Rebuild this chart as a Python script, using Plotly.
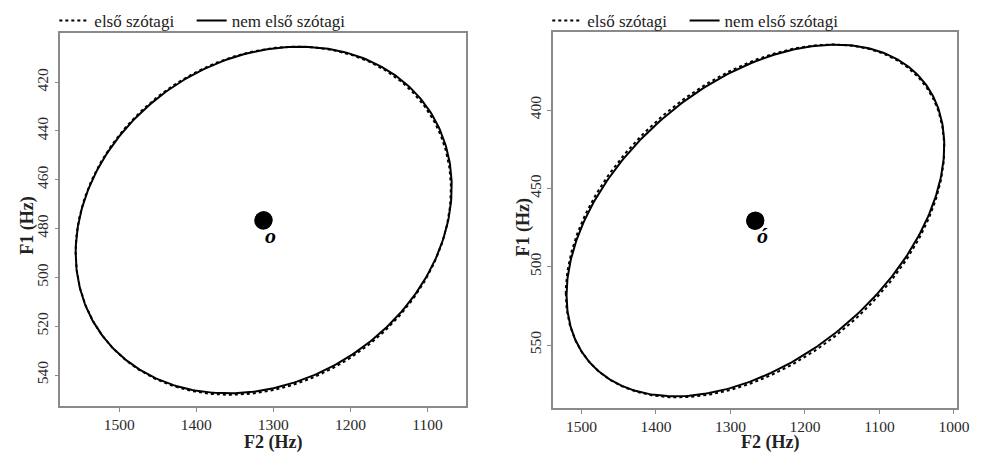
import numpy as np
import plotly.graph_objects as go

# Groups (legend labels)
groups = ["első szótagi", "nem első szótagi"]
dashes = ["dot", "solid"]

# Vowel /o/: group means and ellipse parameters (Hz)
o_f2_mean = [1313.0, 1312.5]
o_f1_mean = [476.8, 476.5]
o_f2_half = [243.5, 244.0]
o_f1_half = [71.3, 71.0]
o_rho = [0.18, 0.19]

# Vowel /ó/: group means and ellipse parameters (Hz)
oo_f2_mean = [1267.0, 1266.5]
oo_f1_mean = [470.8, 470.5]
oo_f2_half = [254.0, 253.5]
oo_f1_half = [112.6, 112.2]
oo_rho = [0.41, 0.425]

# Tick values
o_xticks = [1500, 1400, 1300, 1200, 1100]
o_yticks = [420, 440, 460, 480, 500, 520, 540]
oo_xticks = [1500, 1400, 1300, 1200, 1100, 1000]
oo_yticks = [400, 450, 500, 550]

FONT = "Liberation Serif"
W, H = 988, 452


def ellipse(cx, cy, a, b, rho, n=400):
    t = np.linspace(0, 2 * np.pi, n)
    x = cx + a * np.cos(t)
    y = cy + b * (rho * np.cos(t) + np.sqrt(1 - rho ** 2) * np.sin(t))
    return x, y


fig = go.Figure()

# each legend entry gets its own legend box so the entries can be spaced freely
panels = [
    dict(xa="x", ya="y", legs=["legend", "legend2"], label="o",
         f2=o_f2_mean, f1=o_f1_mean, a=o_f2_half, b=o_f1_half, r=o_rho),
    dict(xa="x2", ya="y2", legs=["legend3", "legend4"], label="ó",
         f2=oo_f2_mean, f1=oo_f1_mean, a=oo_f2_half, b=oo_f1_half, r=oo_rho),
]

for p in panels:
    for i, g in enumerate(groups):
        ex, ey = ellipse(p["f2"][i], p["f1"][i], p["a"][i], p["b"][i], p["r"][i])
        fig.add_trace(go.Scatter(
            x=ex, y=ey, mode="lines", name=g,
            line=dict(color="black", width=2, dash=dashes[i]),
            xaxis=p["xa"], yaxis=p["ya"], legend=p["legs"][i], hoverinfo="skip",
        ))
    # group means
    fig.add_trace(go.Scatter(
        x=p["f2"], y=p["f1"], mode="markers",
        marker=dict(color="black", size=18),
        xaxis=p["xa"], yaxis=p["ya"], showlegend=False,
    ))
    fig.add_annotation(
        x=float(np.mean(p["f2"])), y=float(np.mean(p["f1"])),
        xref=p["xa"], yref=p["ya"],
        text="<b><i>" + p["label"] + "</i></b>", showarrow=False,
        font=dict(family=FONT, size=22, color="black"),
        xshift=7, yshift=-15,
    )


def dom_x(l, r):
    return [l / W, r / W]


def dom_y(t, b):
    return [(H - b) / H, (H - t) / H]


axis_common = dict(
    showline=True, linecolor="#8a8a8a", linewidth=1.5, mirror=True,
    ticks="outside", ticklen=4, tickcolor="#8a8a8a", tickwidth=1,
    showgrid=False, zeroline=False,
    tickfont=dict(family=FONT, size=15.5, color="#2a2a2a"),
)

legend_common = dict(
    orientation="h", y=1 - 3 / H, xanchor="left", yanchor="top",
    font=dict(family=FONT, size=17, color="#222222"),
    bgcolor="rgba(0,0,0,0)", itemwidth=30,
)

fig.update_layout(
    width=W, height=H,
    margin=dict(l=0, r=0, t=0, b=0),
    paper_bgcolor="white", plot_bgcolor="white",
    font=dict(family=FONT, color="#222222"),
    xaxis=dict(domain=dom_x(61, 472), range=[1576.5, 1049.6], tickvals=o_xticks,
               anchor="y", **axis_common),
    yaxis=dict(domain=dom_y(33, 406), range=[552.7, 399.9], tickvals=o_yticks,
               tickangle=-90, anchor="x", **axis_common),
    xaxis2=dict(domain=dom_x(560, 969), range=[1537.9, 995.6], tickvals=oo_xticks,
                anchor="y2", **axis_common),
    yaxis2=dict(domain=dom_y(32, 408), range=[590.2, 350.2], tickvals=oo_yticks,
                tickangle=-90, anchor="x2", **axis_common),
    legend=dict(x=55 / W, **legend_common),
    legend2=dict(x=194 / W, **legend_common),
    legend3=dict(x=554 / W, **legend_common),
    legend4=dict(x=693 / W, **legend_common),
)

# axis titles
titles = [
    dict(text="<b>F2 (Hz)</b>", x=276, y=442, angle=0),
    dict(text="<b>F1 (Hz)</b>", x=27, y=226, angle=-90),
    dict(text="<b>F2 (Hz)</b>", x=779, y=442, angle=0),
    dict(text="<b>F1 (Hz)</b>", x=529, y=228, angle=-90),
]
for t in titles:
    fig.add_annotation(
        text=t["text"], x=t["x"] / W, y=(H - t["y"]) / H,
        xref="paper", yref="paper", showarrow=False, textangle=t["angle"],
        xanchor="center", yanchor="middle",
        font=dict(family=FONT, size=18, color="#222222"),
    )

fig.write_html("out.html")
